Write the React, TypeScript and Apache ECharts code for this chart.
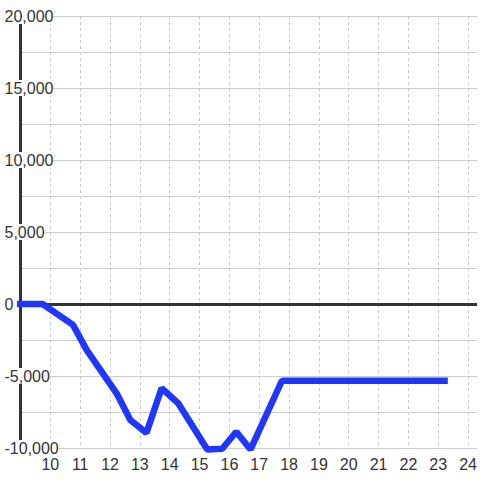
import React, { useEffect, useRef } from "react";
import * as echarts from "echarts";

const xValues = [8.88, 9.74, 10.76, 11.22, 12.22, 12.68, 13.22, 13.73, 14.28, 15.26, 15.76, 16.23, 16.71, 17.76, 23.32];
const yValues = [0, 0, -1450, -3200, -6200, -8050, -8950, -5850, -6880, -10100, -10050, -8870, -10100, -5330, -5330];
const xTickLabels = ["10", "11", "12", "13", "14", "15", "16", "17", "18", "19", "20", "21", "22", "23", "24"];

export default function App() {
  const ref = useRef<HTMLDivElement>(null);
  useEffect(() => {
    if (!ref.current) return;
    const chart = echarts.init(ref.current, null, { renderer: "svg" });
    const font = "Liberation Sans, Arial, sans-serif";
    chart.setOption({
      animation: false,
      backgroundColor: "#ffffff",
      grid: { left: 20.5, right: 0, top: 16, bottom: 32, containLabel: false },
      xAxis: {
        type: "value",
        min: 9,
        max: 24.3,
        interval: 1,
        axisLine: { show: false },
        axisTick: { show: false },
        axisLabel: {
          color: "#333",
          fontSize: 16,
          lineHeight: 14,
          fontFamily: font,
          margin: 9,
          showMinLabel: false,
          showMaxLabel: false,
          formatter: (v: number) => (xTickLabels.includes(String(v)) ? String(v) : ""),
        },
        splitLine: {
          show: true,
          showMinLine: false,
          showMaxLine: false,
          lineStyle: { color: "#c8c8c8", type: [3, 3], width: 1 },
        },
      },
      yAxis: {
        type: "value",
        min: -10000,
        max: 20000,
        interval: 5000,
        axisLine: { show: true, onZero: false, lineStyle: { color: "#333", width: 3 } },
        axisTick: { show: false },
        axisLabel: {
          color: "#333",
          fontSize: 16,
          lineHeight: 14,
          fontFamily: font,
          margin: 16,
          align: "left",
          backgroundColor: "#ffffff",
          padding: [1, 0, 1, 0],
        },
        splitLine: { show: true, lineStyle: { color: "#cccccc", width: 1 } },
        minorTick: { show: false, splitNumber: 2 },
        minorSplitLine: { show: true, lineStyle: { color: "#cccccc", width: 1 } },
      },
      series: [
        {
          type: "line",
          data: xValues.map((x, i) => [x, yValues[i]]),
          showSymbol: false,
          clip: false,
          lineStyle: { color: "#2036fc", width: 6.5 },
          itemStyle: { color: "#2036fc" },
          z: 3,
          markLine: {
            z: 1,
            silent: true,
            symbol: "none",
            label: { show: false },
            lineStyle: { color: "#333", width: 3, type: "solid" },
            data: [{ yAxis: 0 }],
          },
        },
      ],
    });
    return () => chart.dispose();
  }, []);
  return <div ref={ref} style={{ width: 480, height: 480, position: "absolute", left: 0, top: 0 }} />;
}
